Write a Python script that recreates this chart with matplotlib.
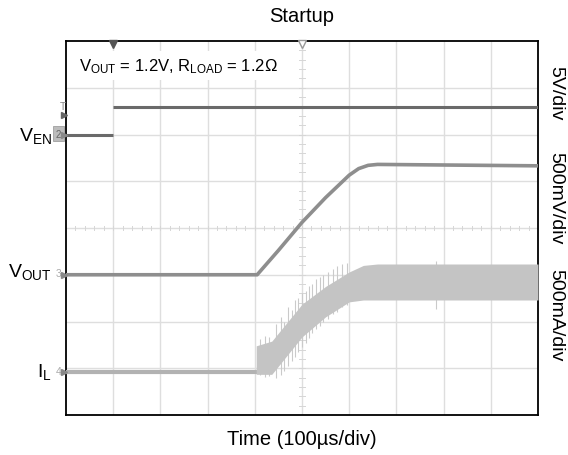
import matplotlib
matplotlib.use("Agg")
import matplotlib.pyplot as plt
import numpy as np

plt.rcParams['font.family'] = ['Liberation Sans', 'DejaVu Sans']
plt.rcParams['mathtext.fontset'] = 'custom'
plt.rcParams['mathtext.rm'] = 'Liberation Sans'
plt.rcParams['mathtext.it'] = 'Liberation Sans:italic'
plt.rcParams['mathtext.bf'] = 'Liberation Sans:bold'

# ---- data (time in divisions, amplitude in screen divisions) ----
ven_lo_t = [0, 1.0]
ven_lo_v = [6.0, 6.0]
ven_hi_t = [1.0, 10]
ven_hi_v = [6.58, 6.58]

vout_t = [0, 4.05, 4.5, 5.0, 5.5, 6.0, 6.2, 6.4, 6.6, 10]
vout_v = [3.0, 3.0, 3.52, 4.12, 4.65, 5.13, 5.27, 5.34, 5.36, 5.33]

il_base_t = [0, 4.36]
il_base_v = [0.91, 0.91]
il_t = [4.03, 4.36, 5.0, 5.5, 6.0, 6.3, 6.6, 10]
il_top = [1.48, 1.58, 2.37, 2.75, 3.06, 3.2, 3.23, 3.23]
il_bot = [0.87, 0.87, 1.67, 2.1, 2.42, 2.46, 2.46, 2.46]

spike_t = [4.12, 4.22, 4.30, 4.45, 4.55, 4.62, 4.70, 4.78, 4.85, 4.92, 5.00, 5.08,
           5.15, 5.22, 5.30, 5.38, 5.45, 5.55, 5.65, 5.75, 5.85, 5.95, 7.84]
spike_hi = [1.62, 1.70, 1.66, 1.95, 2.10, 2.00, 2.30, 2.25, 2.45, 2.50, 2.60, 2.65,
            2.75, 2.80, 2.90, 2.95, 3.00, 3.05, 3.12, 3.18, 3.22, 3.25, 3.30]
spike_lo = [0.85, 0.82, 0.84, 0.80, 0.85, 0.95, 1.05, 1.15, 1.25, 1.35, 1.45, 1.55,
            1.65, 1.75, 1.85, 1.90, 1.98, 2.05, 2.15, 2.20, 2.30, 2.35, 2.27]

labels_left = [r'V$_{\mathrm{EN}}$', r'V$_{\mathrm{OUT}}$', r'I$_{\mathrm{L}}$']
labels_left_y = [6.0, 3.08, 0.95]
labels_right = ['5V/div', '500mV/div', '500mA/div']
labels_right_y = [6.9, 4.66, 2.16]
chan_nums = ['2', '3', '4']
chan_y = [6.0, 3.0, 0.91]

fig = plt.figure(figsize=(5.68, 4.56), dpi=100)
ax = fig.add_axes([66/568, 1-416/456, 472/568, 374/456])
ax.set_xlim(0, 10)
ax.set_ylim(0, 8)

# grid
for gx in range(1, 10):
    ax.axvline(gx, color='#dedede', lw=1.0, zorder=0)
for gy in range(1, 8):
    ax.axhline(gy, color='#dedede', lw=1.0, zorder=0)
# center crosshair minor ticks
for mx in np.arange(0.2, 10, 0.2):
    ax.plot([mx, mx], [3.96, 4.04], color='#d6d6d6', lw=0.7, zorder=0)
for my in np.arange(0.2, 8, 0.2):
    ax.plot([4.94, 5.06], [my, my], color='#d6d6d6', lw=0.7, zorder=0)

ax.set_xticks([])
ax.set_yticks([])
for s in ax.spines.values():
    s.set_linewidth(1.3)
    s.set_color('black')

# traces
ax.vlines(spike_t, spike_lo, spike_hi, color='#cacaca', lw=0.8, zorder=2)
ax.plot(il_base_t, il_base_v, color='#b2b2b2', lw=3.0, zorder=3, solid_capstyle='butt')
ax.fill_between(il_t, il_bot, il_top, color='#c4c4c4', lw=0, zorder=3)
ax.plot(vout_t, vout_v, color='#8e8e8e', lw=2.6, zorder=4, solid_capstyle='butt')
ax.plot(ven_lo_t, ven_lo_v, color='#6a6a6a', lw=2.2, zorder=5, solid_capstyle='butt')
ax.plot(ven_hi_t, ven_hi_v, color='#6a6a6a', lw=2.2, zorder=5, solid_capstyle='butt')

# top markers
ax.plot([1.0], [7.93], marker='v', color='#555555', ms=6, clip_on=False, zorder=6)
ax.plot([5.0], [7.93], marker='v', mfc='white', mec='#999999', ms=6, clip_on=False, zorder=6)

# left channel markers
for i, (n, y) in enumerate(zip(chan_nums, chan_y)):
    if i == 0:
        ax.text(-0.16, y + 0.02, n, fontsize=7, color='#666666', ha='center', va='center',
                bbox=dict(boxstyle='square,pad=0.3', fc='#bcbcbc', ec='#a0a0a0', lw=0.6),
                clip_on=False)
    else:
        ax.text(-0.16, y + 0.03, n, fontsize=7.5, color='#aaaaaa', ha='center', va='center',
                clip_on=False)
    ax.plot([-0.04], [y], marker='>', color='#888888', ms=4, clip_on=False, zorder=6)
ax.text(-0.07, 6.62, 'T', fontsize=7.5, color='#888888', ha='center', va='center', clip_on=False)
ax.plot([-0.05], [6.42], marker='>', color='#666666', ms=4, clip_on=False, zorder=6)

for lab, y in zip(labels_left, labels_left_y):
    ax.text(-0.3, y, lab, fontsize=14, ha='right', va='center', clip_on=False)

for lab, y in zip(labels_right, labels_right_y):
    ax.text(1.037, y / 8, lab, fontsize=14, rotation=-90, ha='center', va='center',
            transform=ax.transAxes, clip_on=False)

ax.text(0.28, 7.47, r'V$_{\mathrm{OUT}}$ = 1.2V, R$_{\mathrm{LOAD}}$ = 1.2Ω', fontsize=12,
        ha='left', va='center', zorder=7,
        bbox=dict(boxstyle='square,pad=0.3', fc='white', ec='none'))

fig.text(302/568, 1 - 17/456, 'Startup', fontsize=14.5, ha='center', va='center')
fig.text(302/568, 1 - 440/456, 'Time (100µs/div)', fontsize=14.5, ha='center', va='center')

fig.savefig('out.png', dpi=100, facecolor='white')
